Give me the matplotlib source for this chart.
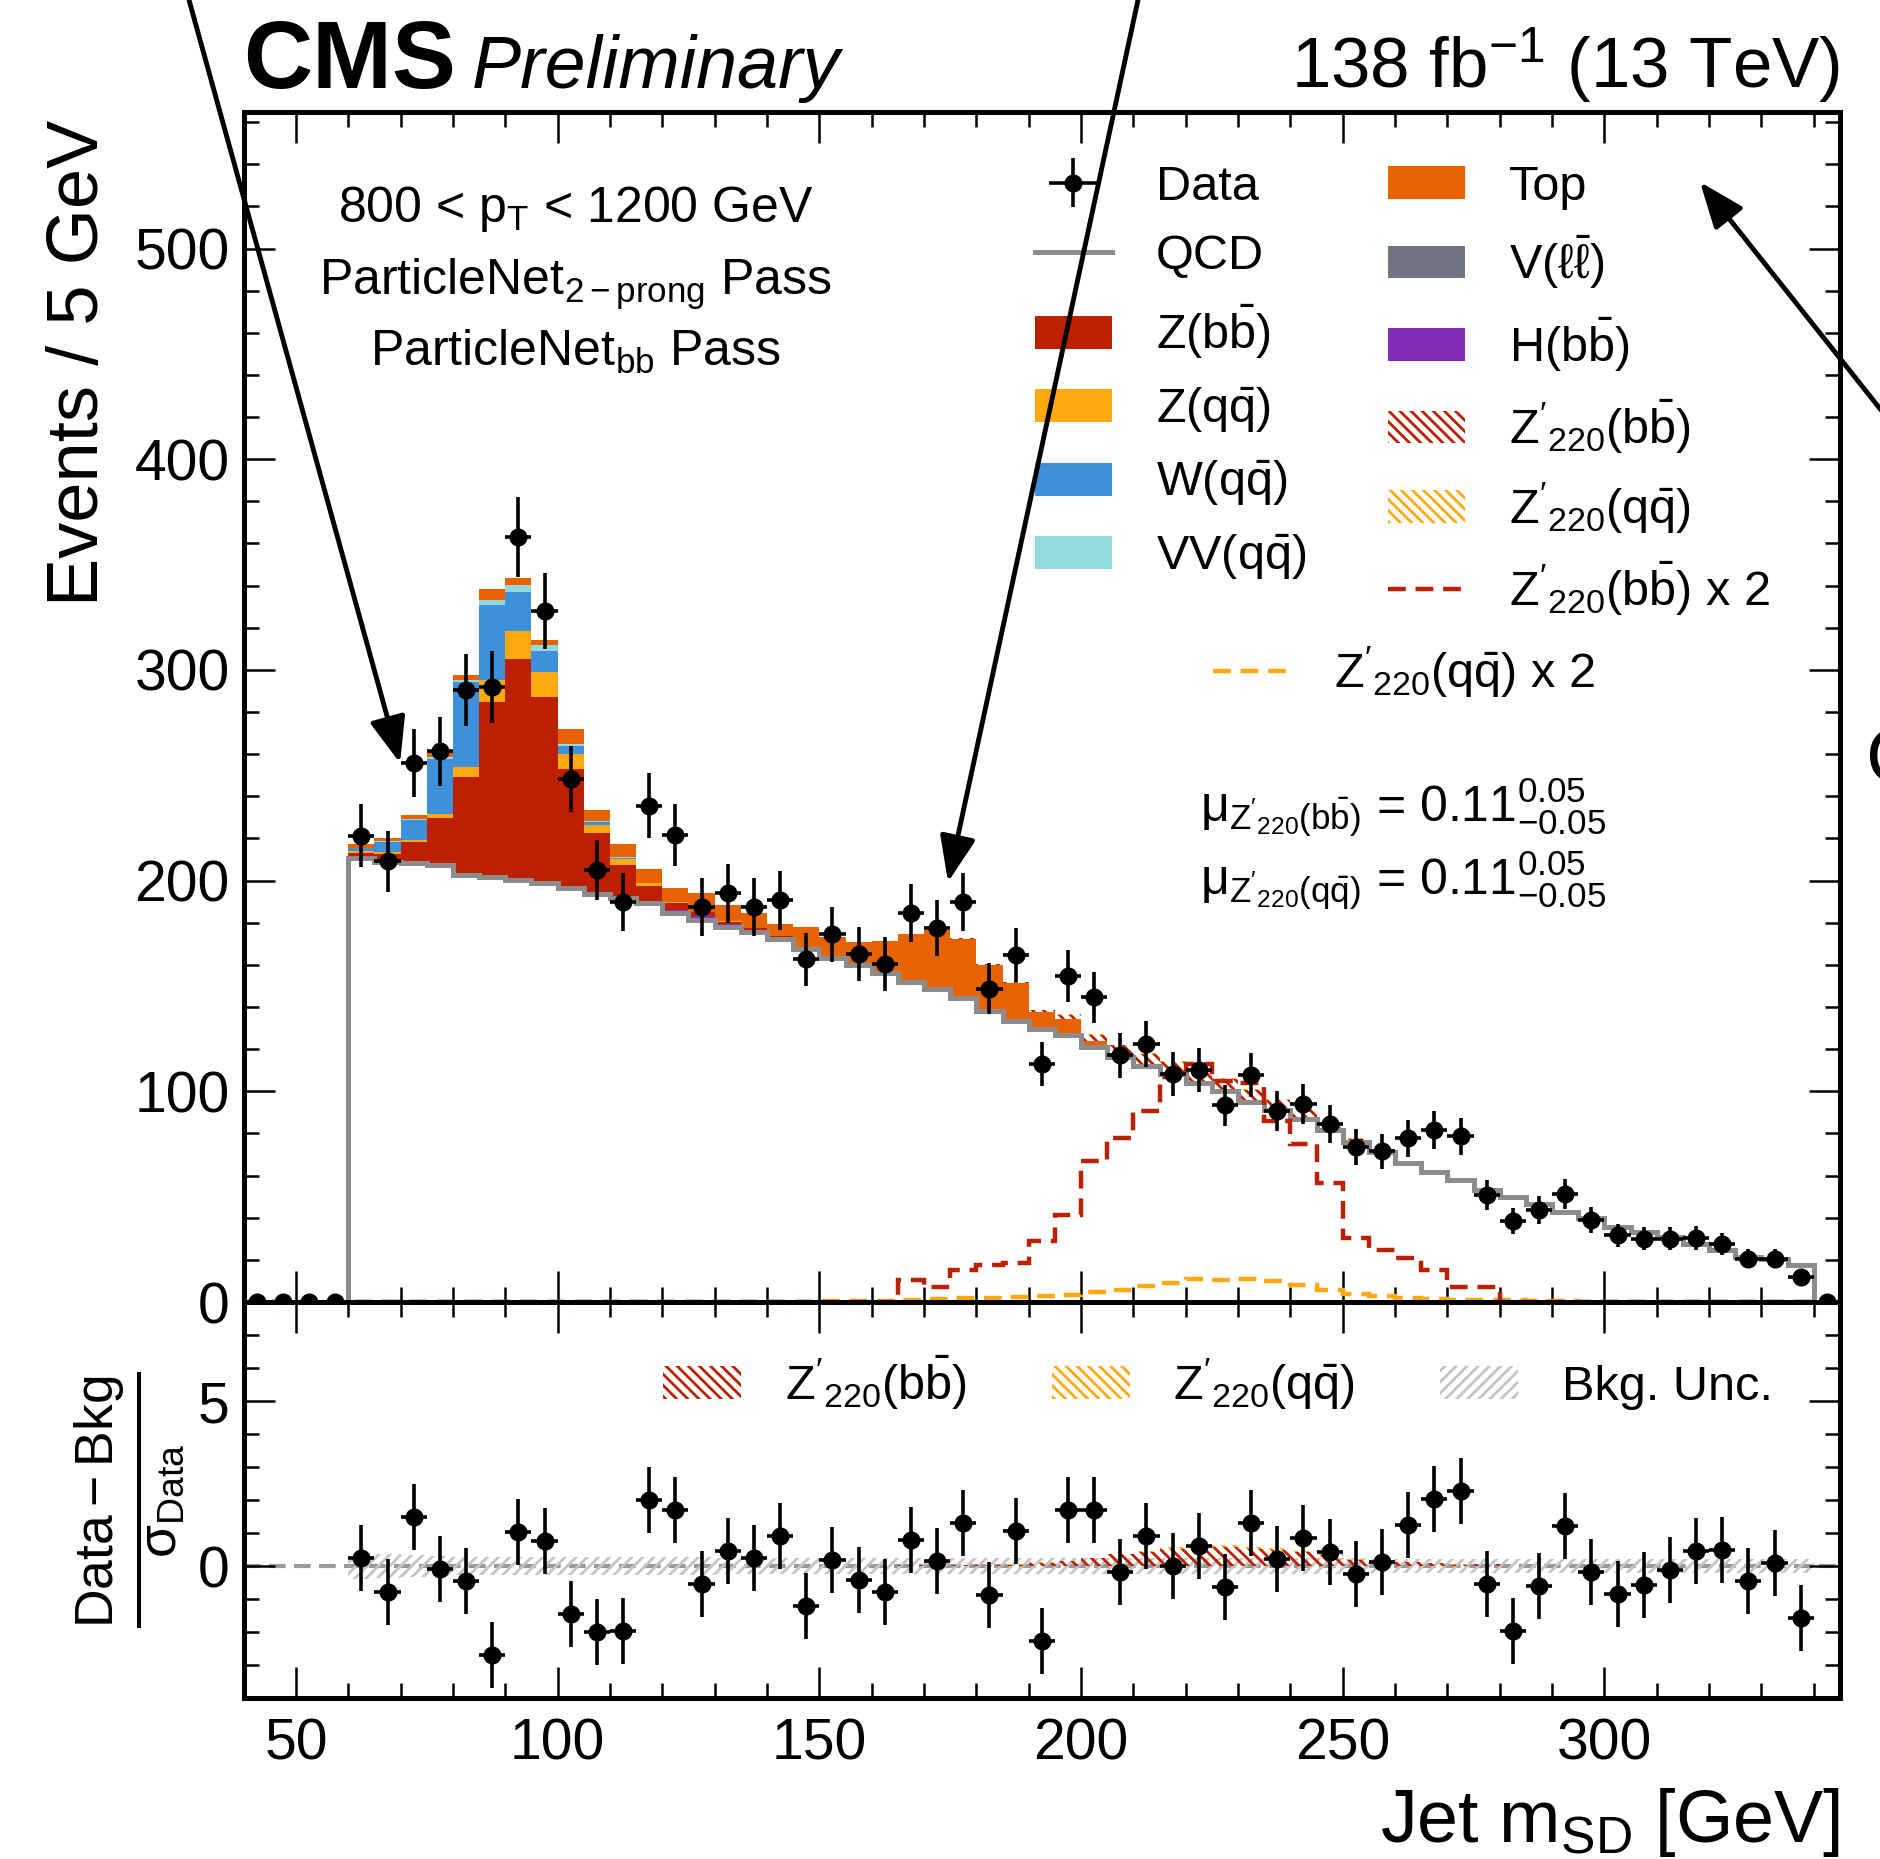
import numpy as np
import matplotlib
matplotlib.use("Agg")
import matplotlib.pyplot as plt
from matplotlib.patches import Patch, FancyArrowPatch
from matplotlib.lines import Line2D
from matplotlib.ticker import MultipleLocator

plt.rcParams['font.family'] = ['Liberation Sans', 'DejaVu Sans']
plt.rcParams['mathtext.fontset'] = 'custom'
plt.rcParams['mathtext.rm'] = 'Liberation Sans'
plt.rcParams['mathtext.it'] = 'Liberation Sans:italic'
plt.rcParams['mathtext.bf'] = 'Liberation Sans:bold'
plt.rcParams['mathtext.sf'] = 'Liberation Sans'
plt.rcParams['mathtext.default'] = 'regular'
plt.rcParams['hatch.linewidth'] = 2.0

# ---------------- data (bins of 5 GeV from 40 to 345) ----------------
edges = np.arange(40, 350, 5)
centers = 0.5 * (edges[:-1] + edges[1:])

data = [0, 0, 0, 0,
        221.3, 209.1, 255.8, 261.3, 290.6, 291.9, 363.1, 328.1, 248.2, 205.1,
        189.9, 235.5, 221.7, 187.4, 194.0, 187.4, 190.6, 162.6, 174.5, 165.0,
        160.5, 184.7, 177.5, 189.9, 148.7, 164.6, 113.0, 154.6, 144.6, 117.1,
        122.5, 108.2, 110.3, 93.4, 107.9, 90.8, 94.0, 84.5, 73.4, 71.5,
        77.8, 81.8, 78.6, 50.9, 38.6, 43.8, 51.4, 38.8, 31.6, 30.0,
        30.0, 30.4, 27.7, 20.6, 20.6, 11.9,
        0]

qcd = [0, 0, 0, 0,
       210.7, 209.0, 208.5, 207.4, 202.7, 201.9, 200.4, 198.7, 196.3, 193.6,
       191.6, 189.3, 184.5, 181.4, 178.2, 175.8, 172.5, 167.5, 163.5, 160.0,
       156.0, 152.0, 148.5, 144.5, 138.0, 133.5, 129.5, 126.5, 121.0, 116.5,
       112.0, 108.0, 104.0, 100.0, 95.0, 91.0, 87.0, 81.5, 76.0, 71.0,
       65.8, 61.7, 57.8, 53.0, 49.8, 46.7, 42.7, 39.9, 35.6, 33.2,
       30.9, 27.7, 24.5, 21.4, 20.6, 17.4,
       0]

vll = [0, 0, 0, 0,
       0.2, 0.3, 0.4, 0.5, 0.5, 0.5, 0.5, 0.5, 0.4, 0.3,
       0.3, 0.2, 0.2, 0.2, 0.1, 0.1, 0.1, 0.1, 0, 0,
       0, 0, 0, 0, 0, 0, 0, 0, 0, 0,
       0, 0, 0, 0, 0, 0, 0, 0, 0, 0,
       0, 0, 0, 0, 0, 0, 0, 0, 0, 0,
       0, 0, 0, 0, 0, 0,
       0]

hbb = [0, 0, 0, 0,
       0, 0, 0, 0, 0, 0, 0, 0, 0.1, 0.2,
       0.3, 0.5, 1.5, 1.6, 1.3, 0.9, 0.5, 0.3, 0.1, 0,
       0, 0, 0, 0, 0, 0, 0, 0, 0, 0,
       0, 0, 0, 0, 0, 0, 0, 0, 0, 0,
       0, 0, 0, 0, 0, 0, 0, 0, 0, 0,
       0, 0, 0, 0, 0, 0,
       0]

zbb = [0, 0, 0, 0,
       2.0, 3.5, 9.5, 21.7, 45.9, 82.6, 104.4, 87.8, 56.2, 28.5,
       15.0, 7.6, 3.2, 1.8, 1.0, 0.6, 0.4, 0.3, 0.2, 0.1,
       0, 0, 0, 0, 0, 0, 0, 0, 0, 0,
       0, 0, 0, 0, 0, 0, 0, 0, 0, 0,
       0, 0, 0, 0, 0, 0, 0, 0, 0, 0,
       0, 0, 0, 0, 0, 0,
       0]

zqq = [0, 0, 0, 0,
       1.0, 1.0, 1.0, 2.1, 4.7, 10.0, 13.0, 12.2, 7.1, 4.0,
       3.2, 1.1, 0.5, 0.3, 0.2, 0.1, 0, 0, 0, 0,
       0, 0, 0, 0, 0, 0, 0, 0, 0, 0,
       0, 0, 0, 0, 0, 0, 0, 0, 0, 0,
       0, 0, 0, 0, 0, 0, 0, 0, 0, 0,
       0, 0, 0, 0, 0, 0,
       0]

wqq = [0, 0, 0, 0,
       1.5, 4.5, 9.5, 26.1, 40.3, 35.6, 18.7, 10.0, 4.0, 1.2,
       0.5, 0.2, 0.1, 0, 0, 0, 0, 0, 0, 0,
       0, 0, 0, 0, 0, 0, 0, 0, 0, 0,
       0, 0, 0, 0, 0, 0, 0, 0, 0, 0,
       0, 0, 0, 0, 0, 0, 0, 0, 0, 0,
       0, 0, 0, 0, 0, 0,
       0]

vvqq = [0, 0, 0, 0,
        0.3, 0.3, 0.5, 0.8, 1.3, 2.4, 3.2, 2.4, 0.8, 0.4,
        0.3, 0.1, 0, 0, 0, 0, 0, 0, 0, 0,
        0, 0, 0, 0, 0, 0, 0, 0, 0, 0,
        0, 0, 0, 0, 0, 0, 0, 0, 0, 0,
        0, 0, 0, 0, 0, 0, 0, 0, 0, 0,
        0, 0, 0, 0, 0, 0,
        0]

top = [0, 0, 0, 0,
       1.5, 1.8, 1.6, 2.4, 2.4, 5.5, 3.5, 2.8, 7.1, 5.5,
       6.3, 6.3, 6.3, 9.0, 7.5, 7.0, 6.0, 10.0, 9.5, 11.0,
       15.5, 22.5, 28.0, 28.0, 22.0, 18.0, 8.0, 8.0, 3.0, 1.5,
       1.0, 0.5, 0.3, 0.3, 0.2, 0.2, 0.1, 0.1, 0, 0,
       0, 0, 0, 0, 0, 0, 0, 0, 0, 0,
       0, 0, 0, 0, 0, 0,
       0]

sig_bb = [0, 0, 0, 0,
          0, 0, 0, 0, 0, 0, 0, 0, 0, 0,
          0, 0, 0, 0, 0, 0, 0, 0, 0, 0,
          0, 0.3, 0.3, 0.4, 0.4, 0.5, 1.0, 1.8, 2.8, 3.8,
          4.6, 5.5, 6.0, 5.6, 5.5, 4.6, 4.0, 3.0, 1.6, 1.3,
          1.1, 0.8, 0.4, 0.4, 0, 0, 0, 0, 0, 0,
          0, 0, 0, 0, 0, 0,
          0]

sig_qq = [0, 0, 0, 0,
          0, 0, 0, 0, 0, 0, 0, 0, 0, 0,
          0, 0, 0, 0, 0, 0, 0, 0, 0, 0,
          0, 0.1, 0.1, 0.1, 0.1, 0.1, 0.15, 0.2, 0.25, 0.3,
          0.4, 0.5, 0.6, 0.6, 0.6, 0.55, 0.45, 0.3, 0.2, 0.15,
          0.1, 0.1, 0.1, 0.1, 0, 0, 0, 0, 0, 0,
          0, 0, 0, 0, 0, 0,
          0]

sig_bb_x2 = [0, 0, 0, 0,
             0, 0, 0, 0, 0, 0, 0, 0, 0, 0,
             0, 0, 0, 0, 0, 0, 0, 0, 0, 0,
             0, 10.3, 7.0, 15.3, 17.7, 18.5, 29.1, 41.5, 66.8, 77.8,
             90.5, 107.0, 113.0, 105.0, 104.0, 86.0, 75.0, 56.5, 30.4, 24.8,
             20.9, 15.3, 7.0, 7.0, 0, 0, 0, 0, 0, 0,
             0, 0, 0, 0, 0, 0,
             0]

sig_qq_x2 = [0, 0, 0, 0,
             0, 0, 0, 0, 0, 0, 0, 0, 0, 0,
             0, 0, 0, 0, 0, 0, 0, 0, 0.3, 0.5,
             0.7, 1.0, 1.6, 1.8, 1.9, 2.2, 2.7, 3.5, 4.6, 5.9,
             7.4, 9.0, 11.0, 10.6, 11.0, 9.8, 7.9, 5.9, 3.8, 2.7,
             1.9, 1.6, 1.1, 1.1, 0.8, 0.6, 0.4, 0, 0, 0,
             0, 0, 0, 0, 0, 0,
             0]

pulls = [np.nan, np.nan, np.nan, np.nan,
         0.25, -0.8, 1.5, -0.1, -0.45, -2.7, 1.03, 0.75, -1.46, -2.0,
         -1.96, 2.0, 1.69, -0.53, 0.45, 0.25, 0.9, -1.2, 0.18, -0.43,
         -0.8, 0.78, 0.15, 1.29, -0.88, 1.06, -2.26, 1.71, 1.71, -0.18,
         0.9, 0.0, 0.62, -0.63, 1.31, 0.2, 0.86, 0.42, -0.25, 0.12,
         1.23, 2.03, 2.26, -0.55, -1.96, -0.6, 1.21, -0.18, -0.84, -0.57,
         -0.13, 0.45, 0.48, -0.45, 0.1, -1.59,
         np.nan]

bkg_unc = [0, 0, 0, 0,
           0.40, 0.36, 0.32, 0.30, 0.28, 0.28, 0.28, 0.27, 0.27, 0.27,
           0.26, 0.26, 0.26, 0.26, 0.25, 0.25, 0.25, 0.25, 0.25, 0.25,
           0.25, 0.25, 0.25, 0.25, 0.24, 0.24, 0.24, 0.24, 0.24, 0.24,
           0.24, 0.24, 0.23, 0.23, 0.23, 0.23, 0.23, 0.23, 0.23, 0.22,
           0.22, 0.22, 0.22, 0.22, 0.22, 0.22, 0.22, 0.22, 0.21, 0.21,
           0.21, 0.21, 0.21, 0.21, 0.21, 0.21,
           0]

# ---------------- styles ----------------
c_zbb, c_zqq, c_wqq, c_vv = "#bd1f01", "#ffa90e", "#3f90da", "#92dadd"
c_top, c_vll, c_hbb = "#e76300", "#717581", "#832db6"
c_qcd = "#8c8c8c"
c_unc = "#c4c4c4"
HATCH = "\\\\\\"

data = np.array(data, float)
qcd = np.array(qcd, float)
sig_bb = np.array(sig_bb, float)
sig_qq = np.array(sig_qq, float)
bkg_unc = np.array(bkg_unc, float)
pulls = np.array(pulls, float)

fig = plt.figure(figsize=(18.81, 18.59), dpi=100)
ax = fig.add_axes([0.1295, 0.2996, 0.8487, 0.6404])
axr = fig.add_axes([0.1295, 0.0866, 0.8487, 0.2130], sharex=ax)

# stacked backgrounds on top of QCD
stack = [(vll, c_vll), (hbb, c_hbb), (zbb, c_zbb), (zqq, c_zqq),
         (wqq, c_wqq), (vvqq, c_vv), (top, c_top)]
base = qcd.copy()
for vals, col in stack:
    vals = np.array(vals, float)
    ax.stairs(base + vals, edges, baseline=base.copy(), fill=True,
              facecolor=col, edgecolor='none', lw=0, zorder=2)
    base = base + vals
total = base.copy()
# signals stacked (hatched)
ax.stairs(total + sig_bb, edges, baseline=total.copy(), fill=True,
          facecolor='none', edgecolor=c_zbb, lw=0, hatch=HATCH, zorder=2.2)
ax.stairs(total + sig_bb + sig_qq, edges, baseline=total + sig_bb, fill=True,
          facecolor='none', edgecolor=c_zqq, lw=0, hatch=HATCH, zorder=2.2)

# QCD line
nz = slice(4, 60)
ax.stairs(qcd[nz], edges[4:61], baseline=0, color=c_qcd, lw=3.6, zorder=3)

# scaled signal shapes
ax.stairs(sig_bb_x2, edges, color=c_zbb, lw=3.2, ls=(0, (4, 2.2)), zorder=3.5)
ax.stairs(sig_qq_x2, edges, color=c_zqq, lw=3.2, ls=(0, (4, 2.2)), zorder=3.4)

# data
eb = ax.errorbar(centers, data, yerr=np.sqrt(data), xerr=2.5, fmt='o',
                 color='black', ms=12, elinewidth=2.6, capsize=0, zorder=5)

# ---------------- ratio ----------------
axr.axhline(0, color='#999999', lw=3, ls=(0, (4, 2)), zorder=1)
axr.stairs(bkg_unc[nz], edges[4:61], baseline=-bkg_unc[nz], fill=True,
           facecolor='none', edgecolor=c_unc, lw=0, hatch='///', zorder=1.5)
with np.errstate(divide='ignore', invalid='ignore'):
    r_bb = np.where(data > 0, sig_bb / np.sqrt(np.where(data > 0, data, 1)), 0)
    r_qq = np.where(data > 0, sig_qq / np.sqrt(np.where(data > 0, data, 1)), 0)
axr.stairs(r_bb, edges, baseline=0, fill=True, facecolor='none',
           edgecolor=c_zbb, lw=0, hatch=HATCH, zorder=2)
axr.stairs(r_bb + r_qq, edges, baseline=r_bb, fill=True, facecolor='none',
           edgecolor=c_zqq, lw=0, hatch=HATCH, zorder=2)
axr.errorbar(centers, pulls, yerr=1.0, xerr=2.5, fmt='o', color='black',
             ms=12, elinewidth=2.6, capsize=0, zorder=5)

# ---------------- axes styling ----------------
for a in (ax, axr):
    a.set_xlim(40, 345)
    a.xaxis.set_major_locator(MultipleLocator(50))
    a.xaxis.set_minor_locator(MultipleLocator(10))
    a.tick_params(which='both', direction='in', top=True, right=True,
                  width=1.8, labelsize=41)
    a.tick_params(which='major', length=22)
    a.tick_params(which='minor', length=11)
    a.tick_params(axis='x', pad=14)
    a.tick_params(axis='y', pad=10)
    for s in a.spines.values():
        s.set_linewidth(3.6)
ax.set_ylim(0, 565)
ax.yaxis.set_major_locator(MultipleLocator(100))
ax.yaxis.set_minor_locator(MultipleLocator(20))
ax.tick_params(labelbottom=False)
axr.set_ylim(-4, 8)
axr.yaxis.set_major_locator(MultipleLocator(5))
axr.yaxis.set_minor_locator(MultipleLocator(1))

ax.set_ylabel("Events / 5 GeV", fontsize=52, loc='top')
ax.yaxis.set_label_coords(-0.082, 0.993)
axr.set_xlabel(r"Jet m$_{\mathrm{SD}}$ [GeV]", fontsize=53, loc='right')
axr.xaxis.set_label_coords(1.0, -0.222)
fig.text(130 / 1881, 0.193, r"$\frac{\mathrm{Data - Bkg}}{\sigma_{\mathrm{Data}}}$",
         rotation=90, ha='center', va='center', fontsize=55)

# header
ax.text(0.0, 1.0198, "CMS", transform=ax.transAxes, fontsize=69,
        fontweight='bold', va='baseline', ha='left')
ax.text(0.1428, 1.0198, "Preliminary", transform=ax.transAxes, fontsize=53,
        style='italic', va='baseline', ha='left')
ax.text(1.0, 1.0198, r"138 fb$^{-1}$ (13 TeV)", transform=ax.transAxes,
        fontsize=51, va='baseline', ha='right')

# region text
region_lines = ["800 < p$_{\\mathrm{T}}$ < 1200 GeV",
                "ParticleNet$_{\\mathrm{2-prong}}$ Pass",
                "ParticleNet$_{\\mathrm{bb}}$ Pass"]
for txt, yy in zip(region_lines, [0.907, 0.846, 0.786]):
    ax.text(0.208, yy, txt, transform=ax.transAxes, fontsize=36,
            ha='center', va='baseline')

ax.text(0.599, 0.403,
        r"$\mu_{\mathrm{Z^{\prime}{}_{220}(b\bar{b})}}$ = 0.11$^{0.05}_{-0.05}$",
        transform=ax.transAxes, fontsize=36, va='baseline', ha='left')
ax.text(0.599, 0.342,
        r"$\mu_{\mathrm{Z^{\prime}{}_{220}(q\bar{q})}}$ = 0.11$^{0.05}_{-0.05}$",
        transform=ax.transAxes, fontsize=36, va='baseline', ha='left')

# ---------------- legends ----------------
h_qcd = Line2D([], [], color=c_qcd, lw=3.6)
p = lambda c: Patch(facecolor=c, edgecolor='none')
hp = lambda c: Patch(facecolor='none', edgecolor=c, hatch=HATCH, lw=0)
l_bb2 = Line2D([], [], color=c_zbb, lw=3.2, ls=(0, (4, 2.2)))
l_qq2 = Line2D([], [], color=c_zqq, lw=3.2, ls=(0, (4, 2.2)))
zp_bb = r"Z$^{\prime}{}_{220}$(b$\bar{b}$)"
zp_qq = r"Z$^{\prime}{}_{220}$(q$\bar{q}$)"
handles = [eb, h_qcd, p(c_zbb), p(c_zqq), p(c_wqq), p(c_vv),
           p(c_top), p(c_vll), p(c_hbb), hp(c_zbb), hp(c_zqq), l_bb2]
labels = ["Data", "QCD", r"Z(b$\bar{b}$)", r"Z(q$\bar{q}$)", r"W(q$\bar{q}$)",
          r"VV(q$\bar{q}$)", "Top", r"V($\ell\bar{\ell}$)", r"H(b$\bar{b}$)",
          zp_bb, zp_qq, zp_bb + " x 2"]
leg_kw = dict(frameon=False, fontsize=35, borderpad=0, borderaxespad=0,
              handlelength=1.6, handleheight=0.66, handletextpad=0.9)
leg1 = ax.legend(handles, labels, ncol=2, loc='upper left',
                 bbox_to_anchor=(0.4955, 0.9555), labelspacing=0.5,
                 columnspacing=1.67, **leg_kw)
ax.add_artist(leg1)
ax.legend([l_qq2], [zp_qq + " x 2"], loc='upper left',
          bbox_to_anchor=(0.607, 0.552), **leg_kw)

axr.legend([hp(c_zbb), hp(c_zqq),
            Patch(facecolor='none', edgecolor=c_unc, hatch='///', lw=0)],
           [zp_bb, zp_qq, "Bkg. Unc."], ncol=3, loc='upper left',
           bbox_to_anchor=(0.263, 0.87), columnspacing=1.75, **leg_kw)

# ---------------- annotation arrows / slide residue ----------------
def arrow(tail, head):
    a = FancyArrowPatch(tail, head, transform=fig.transFigure,
                        arrowstyle="-|>,head_length=28,head_width=11",
                        mutation_scale=1, lw=3.5, color='black',
                        shrinkA=0, shrinkB=0, zorder=10)
    fig.add_artist(a)

arrow((189 / 1881, 1.0), (400 / 1881, 1 - 763 / 1859))
arrow((1138 / 1881, 1.0), (948 / 1881, 1 - 882 / 1859))
arrow((1.0, 1 - 410 / 1859), (1700 / 1881, 1 - 182 / 1859))

# partial letter of slide text at the right edge (cut off in the reference too)
fig.text(1866 / 1881, 1 - 782 / 1859, "C", fontsize=56, ha='left',
         va='baseline')

fig.savefig("out.png", dpi=100)
